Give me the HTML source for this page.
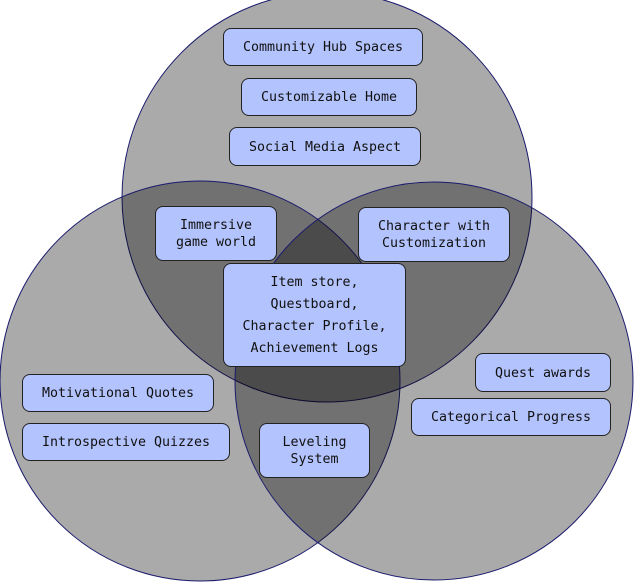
<!DOCTYPE html>
<html><head><style>
body{margin:0;width:634px;height:583px;background:#fff;position:relative;overflow:hidden;font-family:"DejaVu Sans Mono","Liberation Mono",monospace;font-size:13.3px;color:#111}
svg{position:absolute;left:0;top:0}
.b{position:absolute;box-sizing:border-box;background:#b3c3fd;border:1px solid #222;border-radius:8px;display:flex;align-items:center;justify-content:center;text-align:center;line-height:17px;padding-top:1px}
</style></head><body>
<svg width="634" height="583">
<g fill="#000" fill-opacity="0.333" stroke="#1a1a6e" stroke-width="1">
<circle cx="327" cy="197" r="205"/>
<circle cx="200" cy="381" r="200"/>
<circle cx="434" cy="381" r="199"/>
</g>
</svg>
<div class="b" style="left:223px;top:28px;width:200px;height:38px">Community Hub Spaces</div>
<div class="b" style="left:241px;top:78px;width:176px;height:38px">Customizable Home</div>
<div class="b" style="left:229px;top:127px;width:192px;height:39px">Social Media Aspect</div>
<div class="b" style="left:155px;top:206px;width:122px;height:55px">Immersive<br>game world</div>
<div class="b" style="left:358px;top:207px;width:152px;height:55px">Character with<br>Customization</div>
<div class="b" style="left:223px;top:263px;width:183px;height:104px;line-height:22px">Item store,<br>Questboard,<br>Character Profile,<br>Achievement Logs</div>
<div class="b" style="left:22px;top:374px;width:192px;height:38px">Motivational Quotes</div>
<div class="b" style="left:22px;top:423px;width:208px;height:38px">Introspective Quizzes</div>
<div class="b" style="left:259px;top:423px;width:111px;height:55px">Leveling<br>System</div>
<div class="b" style="left:475px;top:353px;width:136px;height:39px">Quest awards</div>
<div class="b" style="left:411px;top:398px;width:200px;height:38px">Categorical Progress</div>
</body></html>
